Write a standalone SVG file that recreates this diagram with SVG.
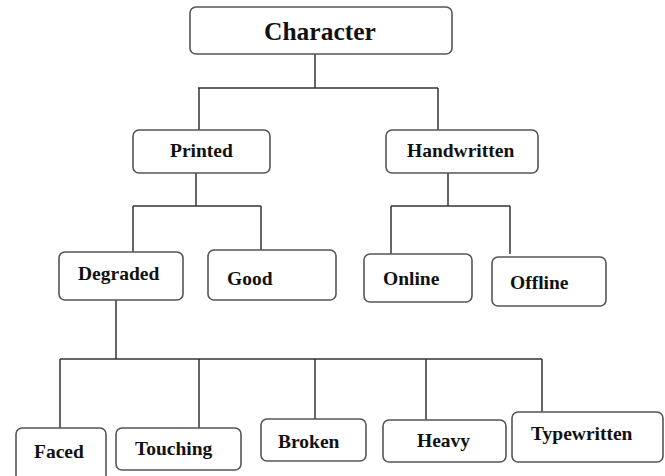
<svg xmlns="http://www.w3.org/2000/svg" width="665" height="476" viewBox="0 0 665 476">
<style>
.box{fill:#fff;stroke:#555;stroke-width:1.6}
.lbl{font-family:"Liberation Serif","Times New Roman",serif;font-weight:bold;font-size:19.5px;fill:#111}
.conn line{stroke:#333;stroke-width:1.5}
</style>
<rect width="665" height="476" fill="#fff"/>
<g class="conn" id="connectors">
<line x1="315" y1="54" x2="315" y2="88"/>
<line x1="198" y1="88" x2="438" y2="88"/>
<line x1="199" y1="88" x2="199" y2="130"/>
<line x1="438" y1="88" x2="438" y2="130"/>
<line x1="196" y1="173" x2="196" y2="206"/>
<line x1="133" y1="206" x2="261" y2="206"/>
<line x1="133" y1="206" x2="133" y2="252"/>
<line x1="261" y1="206" x2="261" y2="250"/>
<line x1="448" y1="173" x2="448" y2="206"/>
<line x1="391" y1="206" x2="510" y2="206"/>
<line x1="391" y1="206" x2="391" y2="254"/>
<line x1="510" y1="206" x2="510" y2="254"/>
<line x1="116" y1="300" x2="116" y2="359"/>
<line x1="60" y1="359" x2="542" y2="359"/>
<line x1="60" y1="359" x2="60" y2="428"/>
<line x1="199" y1="359" x2="199" y2="428"/>
<line x1="315" y1="359" x2="315" y2="419"/>
<line x1="426" y1="359" x2="426" y2="420"/>
<line x1="542" y1="359" x2="542" y2="412"/>
</g>
<g id="character"><rect class="box" x="190" y="7" width="262" height="47" rx="6"/><text class="lbl" x="264" y="40" style="font-size:25.5px">Character</text></g>
<g id="printed"><rect class="box" x="133" y="130" width="137" height="43" rx="6"/><text class="lbl" x="170" y="157">Printed</text></g>
<g id="handwritten"><rect class="box" x="386" y="130" width="152" height="43" rx="6"/><text class="lbl" x="407" y="157">Handwritten</text></g>
<g id="degraded"><rect class="box" x="59" y="252" width="124" height="48" rx="6"/><text class="lbl" x="78" y="280">Degraded</text></g>
<g id="good"><rect class="box" x="208" y="250" width="128" height="50" rx="6"/><text class="lbl" x="227" y="285">Good</text></g>
<g id="online"><rect class="box" x="364" y="254" width="108" height="48" rx="6"/><text class="lbl" x="383" y="285">Online</text></g>
<g id="offline"><rect class="box" x="492" y="257" width="114" height="49" rx="6"/><text class="lbl" x="510" y="289">Offline</text></g>
<g id="faced"><rect class="box" x="16" y="428" width="90" height="56" rx="6"/><text class="lbl" x="34" y="458">Faced</text></g>
<g id="touching"><rect class="box" x="116" y="428" width="125" height="42" rx="6"/><text class="lbl" x="135" y="455">Touching</text></g>
<g id="broken"><rect class="box" x="261" y="419" width="105" height="42" rx="6"/><text class="lbl" x="278" y="448">Broken</text></g>
<g id="heavy"><rect class="box" x="383" y="420" width="123" height="42" rx="6"/><text class="lbl" x="417" y="447">Heavy</text></g>
<g id="typewritten"><rect class="box" x="512" y="412" width="151" height="50" rx="6"/><text class="lbl" x="531" y="440">Typewritten</text></g>
</svg>
